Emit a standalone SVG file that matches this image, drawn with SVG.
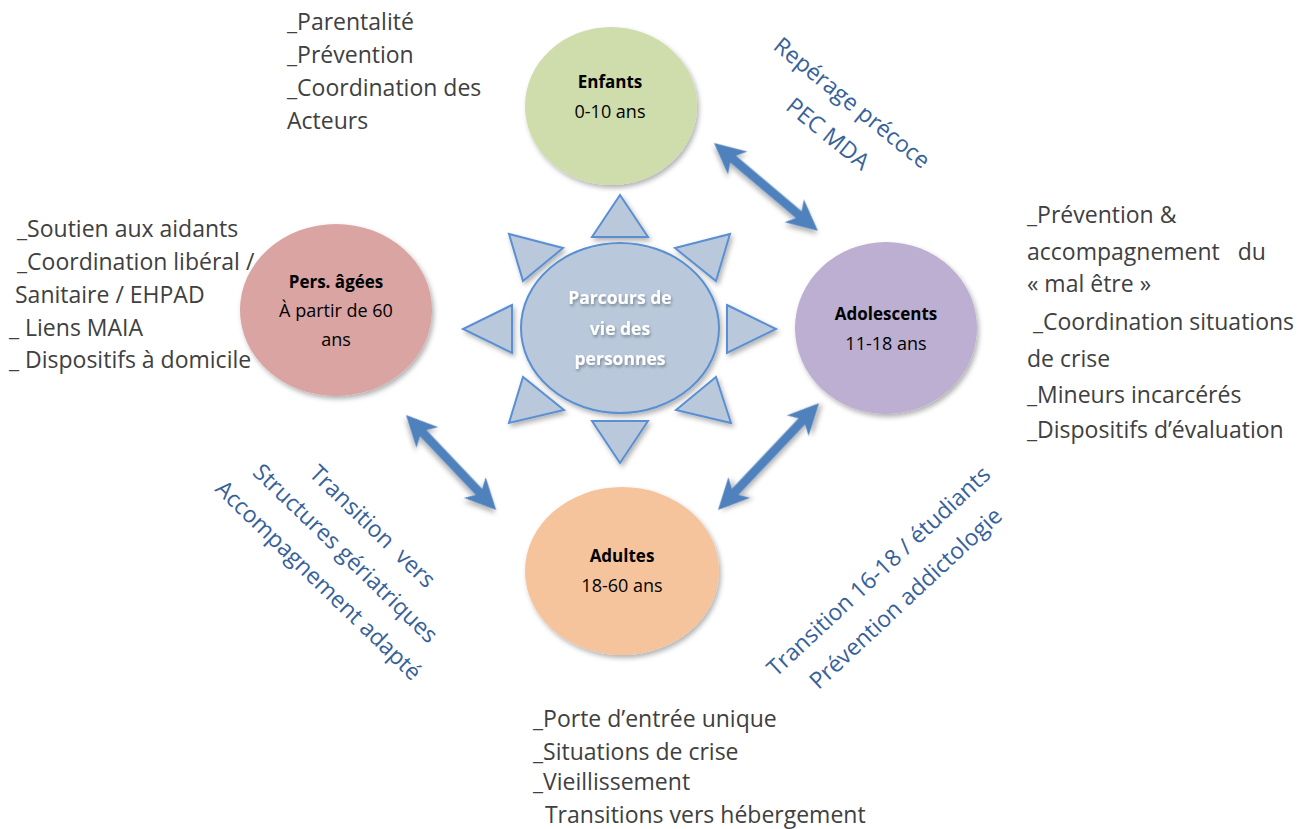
<svg xmlns="http://www.w3.org/2000/svg" width="1302" height="829" viewBox="0 0 1302 829">
  <defs>
    <filter id="shadow" x="-20%" y="-20%" width="140%" height="140%">
      <feDropShadow dx="2" dy="3" stdDeviation="2.5" flood-color="#000" flood-opacity="0.3"/>
    </filter>
    <filter id="glow" x="-20%" y="-30%" width="140%" height="160%">
      <feDropShadow dx="1" dy="2" stdDeviation="1.5" flood-color="#000" flood-opacity="0.35"/>
    </filter>
  </defs>
  <style>
    .list { font-family: "Open Sans", "Liberation Sans", sans-serif; font-size: 23px; fill: #404040; }
    .note { font-family: "Open Sans", "Liberation Sans", sans-serif; font-size: 23px; fill: #36619b; text-anchor: middle; }
    .title { font-family: "Open Sans", "Liberation Sans", sans-serif; font-size: 17px; font-weight: bold; fill: #000; text-anchor: middle; }
    .sub { font-family: "Open Sans", "Liberation Sans", sans-serif; font-size: 18px; fill: #000; text-anchor: middle; }
    .core { font-family: "Open Sans", "Liberation Sans", sans-serif; font-size: 17.5px; font-weight: bold; fill: #fff; text-anchor: middle; }
    .ray { fill: #b9c9db; stroke: #5a8fd3; stroke-width: 2; stroke-linejoin: miter; }
    .arrow { fill: #4f81bd; filter: url(#shadow); }
  </style>

  <rect width="1302" height="829" fill="#fff"/>

  <!-- centre: sun with rays -->
  <g id="parcours">
    <g filter="url(#shadow)">
      <polygon class="ray" points="620,195 592,237 648,237"/>
      <polygon class="ray" points="675,248 730,234 716,281"/>
      <polygon class="ray" points="727,305 776,329 727,353"/>
      <polygon class="ray" points="676,410 716,377 731,423"/>
      <polygon class="ray" points="592,421 648,421 620,463"/>
      <polygon class="ray" points="564,410 523,377 509,423"/>
      <polygon class="ray" points="512,305 463,329 512,353"/>
      <polygon class="ray" points="563,248 509,234 523,281"/>
      <ellipse cx="620" cy="328" rx="99" ry="85" fill="#b9c9db" stroke="#5a8fd3" stroke-width="2"/>
    </g>
    <g filter="url(#glow)">
      <text class="core" x="620" y="304">Parcours de</text>
      <text class="core" x="620" y="335">vie des</text>
      <text class="core" x="620" y="365">personnes</text>
    </g>
  </g>

  <g id="enfants">
    <ellipse cx="611" cy="106" rx="86" ry="79" fill="#cfdcab" filter="url(#shadow)"/>
    <text class="title" x="610" y="88">Enfants</text>
    <text class="sub" x="610" y="118">0-10 ans</text>
  </g>

  <g id="adolescents">
    <ellipse cx="886" cy="328" rx="91" ry="86" fill="#bcafd1" filter="url(#shadow)"/>
    <text class="title" x="886" y="320">Adolescents</text>
    <text class="sub" x="886" y="350">11-18 ans</text>
  </g>

  <g id="personnes-agees">
    <ellipse cx="336" cy="310" rx="96" ry="86" fill="#d9a4a2" filter="url(#shadow)"/>
    <text class="title" x="336" y="288">Pers. âgées</text>
    <text class="sub" x="336" y="317">À partir de 60</text>
    <text class="sub" x="336" y="346">ans</text>
  </g>

  <g id="adultes">
    <ellipse cx="622" cy="571" rx="97" ry="84" fill="#f5c49c" filter="url(#shadow)"/>
    <text class="title" x="622" y="562">Adultes</text>
    <text class="sub" x="622" y="592">18-60 ans</text>
  </g>

  <!-- double-headed links between age groups -->
  <g id="connectors">
    <path class="arrow" transform="translate(714,143) rotate(40.2)" d="M0,0 L31,-15 L25,-4.5 L111,-4.5 L105,-15 L136,0 L105,15 L111,4.5 L25,4.5 L31,15 Z"/>
    <path class="arrow" transform="translate(718,510) rotate(-46.6)" d="M0,0 L31,-15 L25,-4.5 L122,-4.5 L116,-15 L147,0 L116,15 L122,4.5 L25,4.5 L31,15 Z"/>
    <path class="arrow" transform="translate(406,415) rotate(46.5)" d="M0,0 L31,-15 L25,-4.5 L106,-4.5 L100,-15 L131,0 L100,15 L106,4.5 L25,4.5 L31,15 Z"/>
  </g>

  <!-- transition notes along the links -->
  <g id="note-enfants-ados">
    <text class="note" transform="translate(847,109) rotate(39)">Repérage précoce</text>
    <text class="note" transform="translate(823,140) rotate(39)">PEC MDA</text>
  </g>
  <g id="note-ados-adultes">
    <text class="note" transform="translate(884,577) rotate(-43)">Transition 16-18 / étudiants</text>
    <text class="note" transform="translate(911,604) rotate(-43)">Prévention addictologie</text>
  </g>
  <g id="note-adultes-agees">
    <text class="note" transform="translate(367,532) rotate(44)" xml:space="preserve">Transition  vers</text>
    <text class="note" transform="translate(340,559) rotate(44)">Structures gériatriques</text>
    <text class="note" transform="translate(313,586) rotate(44)">Accompagnement adapté</text>
  </g>

  <!-- actions per age group -->
  <g id="actions-enfants">
    <text class="list" x="287" y="30">_Parentalité</text>
    <text class="list" x="287" y="63">_Prévention</text>
    <text class="list" x="287" y="96">_Coordination des</text>
    <text class="list" x="287" y="129">Acteurs</text>
  </g>
  <g id="actions-agees">
    <text class="list" x="17" y="237">_Soutien aux aidants</text>
    <text class="list" x="17" y="270">_Coordination libéral /</text>
    <text class="list" x="15" y="303">Sanitaire / EHPAD</text>
    <text class="list" x="9" y="336" xml:space="preserve">_ Liens MAIA</text>
    <text class="list" x="9" y="368" xml:space="preserve">_ Dispositifs à domicile</text>
  </g>
  <g id="actions-ados">
    <text class="list" x="1027" y="223">_Prévention &amp;</text>
    <text class="list" x="1027" y="260" xml:space="preserve">accompagnement   du</text>
    <text class="list" x="1027" y="292">« mal être »</text>
    <text class="list" x="1027" y="330" xml:space="preserve"> _Coordination situations</text>
    <text class="list" x="1027" y="367">de crise</text>
    <text class="list" x="1027" y="403">_Mineurs incarcérés</text>
    <text class="list" x="1027" y="438">_Dispositifs d’évaluation</text>
  </g>
  <g id="actions-adultes">
    <text class="list" x="533" y="727">_Porte d’entrée unique</text>
    <text class="list" x="533" y="760">_Situations de crise</text>
    <text class="list" x="533" y="790">_Vieillissement</text>
    <text class="list" x="533" y="823" xml:space="preserve">  Transitions vers hébergement</text>
  </g>
</svg>
